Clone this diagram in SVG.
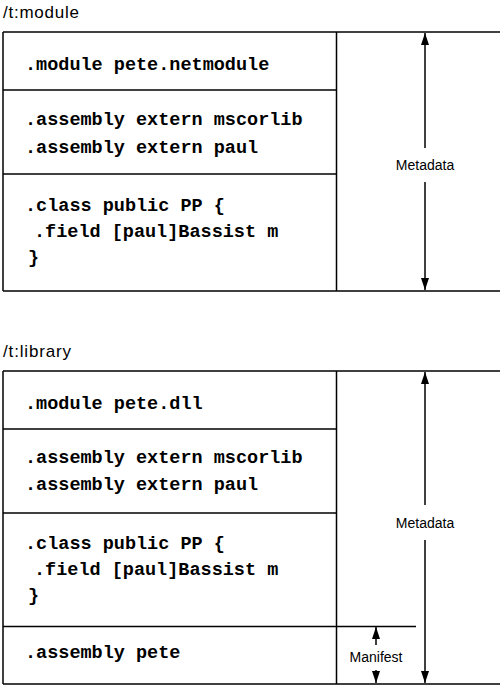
<svg xmlns="http://www.w3.org/2000/svg" width="500" height="687" viewBox="0 0 500 687">
<defs>
<marker id="ah" viewBox="0 0 12 8" refX="12" refY="4" markerWidth="12" markerHeight="8" markerUnits="userSpaceOnUse" orient="auto">
<path d="M0,0 L12,4 L0,8 Z" fill="#000"/>
</marker>
<style>
.ln{stroke:#000;stroke-width:1.5;fill:none}
.ar{stroke:#000;stroke-width:1.5;fill:none;marker-end:url(#ah)}
.code{font-family:"Courier New","Liberation Mono",monospace;font-weight:bold;font-size:18.5px;fill:#000}
.lbl{font-family:"Liberation Sans",Arial,sans-serif;font-size:14px;fill:#000;text-anchor:middle}
.ttl{font-family:"Liberation Sans",Arial,sans-serif;font-size:17px;fill:#000}
</style>
</defs>
<rect width="500" height="687" fill="#fff"/>

<g id="module-diagram">
<text class="ttl" x="3" y="18" textLength="76">/t:module</text>
<g id="m-frame">
<line class="ln" x1="3" y1="32" x2="500" y2="32"/>
<line class="ln" x1="3" y1="291" x2="500" y2="291"/>
<line class="ln" x1="3" y1="32" x2="3" y2="291"/>
<line class="ln" x1="336.5" y1="32" x2="336.5" y2="291"/>
</g>
<g id="m-module">
<line class="ln" x1="3" y1="90" x2="336.5" y2="90"/>
<text class="code" x="25" y="70">.module pete.netmodule</text>
</g>
<g id="m-extern">
<line class="ln" x1="3" y1="174" x2="336.5" y2="174"/>
<text class="code" x="25" y="125">.assembly extern mscorlib</text>
<text class="code" x="25" y="153">.assembly extern paul</text>
</g>
<g id="m-class">
<text class="code" x="25" y="211">.class public PP {</text>
<text class="code" x="34" y="237">.field [paul]Bassist m</text>
<text class="code" x="28" y="263">}</text>
</g>
<g id="m-metadata">
<text class="lbl" x="425" y="170">Metadata</text>
</g>
</g>

<g id="library-diagram">
<text class="ttl" x="3" y="357" textLength="68">/t:library</text>
<g id="l-frame">
<line class="ln" x1="3" y1="371" x2="500" y2="371"/>
<line class="ln" x1="3" y1="684" x2="500" y2="684"/>
<line class="ln" x1="3" y1="371" x2="3" y2="684"/>
<line class="ln" x1="336.5" y1="371" x2="336.5" y2="684"/>
</g>
<g id="l-module">
<line class="ln" x1="3" y1="429" x2="336.5" y2="429"/>
<text class="code" x="25" y="409">.module pete.dll</text>
</g>
<g id="l-extern">
<line class="ln" x1="3" y1="513" x2="336.5" y2="513"/>
<text class="code" x="25" y="463">.assembly extern mscorlib</text>
<text class="code" x="25" y="490">.assembly extern paul</text>
</g>
<g id="l-class">
<line class="ln" x1="3" y1="626.5" x2="416" y2="626.5"/>
<text class="code" x="25" y="549">.class public PP {</text>
<text class="code" x="34" y="575">.field [paul]Bassist m</text>
<text class="code" x="28" y="601">}</text>
</g>
<g id="l-manifest">
<text class="code" x="25" y="658">.assembly pete</text>
<text class="lbl" x="376" y="662">Manifest</text>
</g>
<g id="l-metadata">
<text class="lbl" x="425" y="528">Metadata</text>
</g>
</g>

<g id="connectors">
<line class="ar" x1="425" y1="148" x2="425" y2="33"/>
<line class="ar" x1="425" y1="182" x2="425" y2="290"/>
<line class="ar" x1="425" y1="505" x2="425" y2="372"/>
<line class="ar" x1="425" y1="540" x2="425" y2="683"/>
<line class="ar" x1="376" y1="645" x2="376" y2="627"/>
<line class="ar" x1="376" y1="670" x2="376" y2="683"/>
</g>
</svg>
